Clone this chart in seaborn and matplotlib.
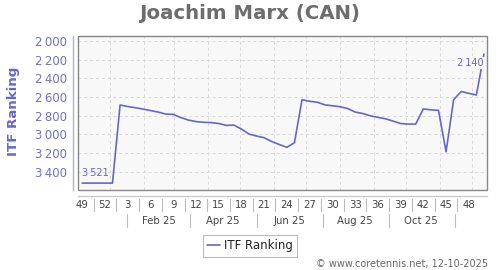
import numpy as np
import pandas as pd
import seaborn as sns
import matplotlib
matplotlib.use("Agg")
import matplotlib.pyplot as plt
import matplotlib.transforms as mtransforms
from matplotlib.patches import Rectangle

# ---------------- data ----------------
title = "Joachim Marx (CAN)"
series_name = "ITF Ranking"
start_date = "2024-12-06"
ranking = [3521, 3521, 3521, 3521, 3521, 2685, 2701, 2714, 2728, 2744,
           2760, 2782, 2785, 2819, 2846, 2862, 2870, 2873, 2883, 2903,
           2900, 2942, 2996, 3017, 3035, 3076, 3108, 3138, 3089, 2628,
           2645, 2655, 2683, 2693, 2703, 2722, 2760, 2776, 2800, 2817,
           2832, 2857, 2883, 2889, 2889, 2727, 2737, 2742, 3185, 2628,
           2540, 2560, 2578, 2140]
week_labels = ["49", "52", "3", "6", "9", "12", "15", "18", "21", "24",
               "27", "30", "33", "36", "39", "42", "45", "48"]
month_labels = ["Feb 25", "Apr 25", "Jun 25", "Aug 25", "Oct 25"]
month_label_dates = ["2025-02-15", "2025-04-15", "2025-06-15", "2025-08-15", "2025-10-15"]
month_sep_dates = ["2025-01-16", "2025-03-16", "2025-05-16", "2025-07-16", "2025-09-15", "2025-11-15"]
grid_dates = ["2025-01-01", "2025-02-01", "2025-03-01", "2025-04-01", "2025-05-01", "2025-06-01",
              "2025-07-01", "2025-08-01", "2025-09-01", "2025-10-01", "2025-11-01", "2025-12-01"]
yticks = [2000, 2200, 2400, 2600, 2800, 3000, 3200, 3400]
copyright_text = "\u00a9 www.coretennis.net, 12-10-2025"

# ---------------- helpers ----------------
d0 = pd.Timestamp(start_date)
def date_pos(d):
    return (pd.Timestamp(d) - d0).days / 7.0

df = pd.DataFrame({"week": np.arange(len(ranking)), series_name: ranking})

LINE = "#6666cc"
AXC = "#7070cc"

sns.set_theme(style="white")
plt.rcParams["font.family"] = ["DejaVu Sans"]

fig = plt.figure(figsize=(5.0, 2.7), dpi=100)
ax = fig.add_axes([78 / 500, 1 - 190 / 270, 409 / 500, 154 / 270])
ax.set_facecolor("#f8f8f8")

sns.lineplot(data=df, x="week", y=series_name, ax=ax, color=LINE, lw=1.2,
             label=series_name, legend=False)

ax.set_ylim(3595, 1946)
ax.set_xlim(-0.55, 53.4)

# grid
ax.set_yticks(yticks)
ax.set_yticklabels([f"{v:,}".replace(",", "\u2009") for v in yticks])
ax.set_xticks([date_pos(d) for d in grid_dates])
ax.set_xticklabels([])
ax.grid(True, color="#d9d9d9", lw=0.7, ls=(0, (3, 3)))
ax.set_axisbelow(True)

# spines / frame
for s in ["top", "right", "bottom", "left"]:
    ax.spines[s].set_visible(False)
ax.add_patch(Rectangle((0, 0), 1, 1, transform=ax.transAxes, fill=False,
                       edgecolor="#888888", lw=1.0, zorder=5, clip_on=False))
ax.spines["left"].set_visible(True)
ax.spines["left"].set_position(("outward", 3.5))
ax.spines["left"].set_color("#b0b0e0")
ax.spines["left"].set_linewidth(1.0)
ax.spines["bottom"].set_visible(True)
ax.spines["bottom"].set_position(("outward", 4.0))
ax.spines["bottom"].set_color("#cccccc")
ax.spines["bottom"].set_linewidth(1.0)

ax.tick_params(axis="y", length=0, pad=4.5, labelsize=8.5, labelcolor=AXC)
ax.tick_params(axis="x", which="major", length=2.5, color="#cccccc", width=0.8)

# week labels as minor ticks
week_pos = np.arange(len(week_labels)) * 3
ax.set_xticks(week_pos, minor=True)
ax.set_xticklabels(week_labels, minor=True)
ax.tick_params(axis="x", which="minor", length=0, pad=3.5, labelsize=7.3, labelcolor="#444444")

ax.set_xlabel("")
ax.set_ylabel(series_name, fontsize=9.6, color=LINE, fontweight="bold")
ax.yaxis.set_label_coords(-0.143, 0.51)

trans = mtransforms.blended_transform_factory(ax.transData, ax.transAxes)
# separators between week labels
for p in week_pos[:-1] + 1.5:
    ax.plot([p, p], [-0.058, -0.134], color="#bbbbbb", lw=0.8, transform=trans, clip_on=False)
# month row
for lab, d in zip(month_labels, month_label_dates):
    ax.text(date_pos(d), -0.199, lab, transform=trans, ha="center", va="center",
            fontsize=7.3, color="#444444")
for d in month_sep_dates:
    p = date_pos(d)
    ax.plot([p, p], [-0.156, -0.238], color="#bbbbbb", lw=0.8, transform=trans, clip_on=False)

# value annotations
ax.annotate(f"{ranking[0]:,}".replace(",", "\u2009"), xy=(0, ranking[0]), xytext=(0, 4),
            textcoords="offset points", ha="left", va="bottom", fontsize=7, color=LINE)
ax.annotate(f"{ranking[-1]:,}".replace(",", "\u2009"), xy=(len(ranking) - 1, ranking[-1]),
            xytext=(0, -6.5), textcoords="offset points", ha="right", va="center",
            fontsize=7, color=LINE,
            bbox=dict(boxstyle="square,pad=0.1", fc="#f8f8f8", ec="none"))

# title
fig.text(0.5, 1 - 13.5 / 270, title, ha="center", va="center", fontsize=14.2,
         fontweight="bold", color="#6d6d6d")

# legend
h, l = ax.get_legend_handles_labels()
leg = fig.legend(h, l, loc="center", bbox_to_anchor=(0.5, 1 - 246 / 270), fontsize=8.5,
                 frameon=True, fancybox=False, handlelength=1.1, handletextpad=0.4,
                 borderpad=0.35, borderaxespad=0)
leg.get_frame().set_edgecolor("#aaaaaa")
leg.get_frame().set_linewidth(0.8)
for t in leg.get_texts():
    t.set_color("#222222")

fig.text(488 / 500, 1 - 264 / 270, copyright_text, ha="right", va="center",
         fontsize=7, color="#666666")

fig.savefig("out.png", dpi=100)
